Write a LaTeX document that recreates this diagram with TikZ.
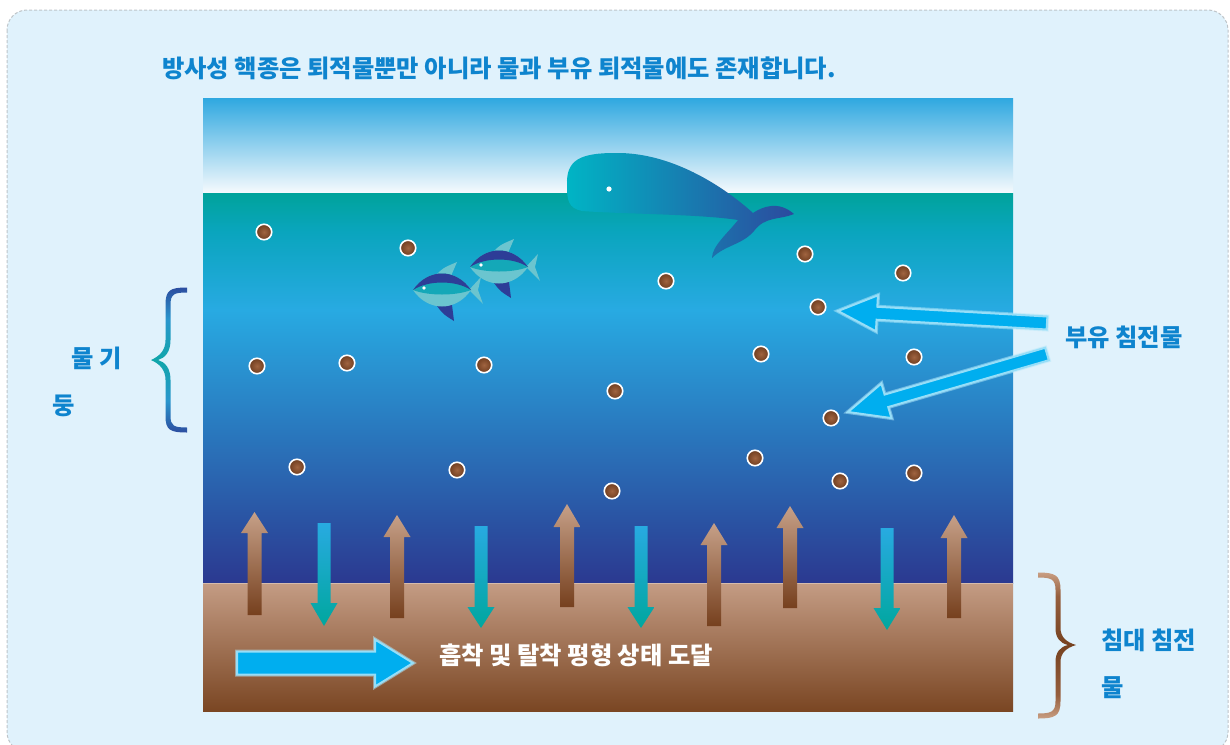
\documentclass[tikz,border=0pt]{standalone}
\usepackage{fontspec}
\newfontfamily\krfont{Noto Sans CJK KR}
\usetikzlibrary{calc}

% palette
\definecolor{panelfill}{RGB}{224,242,252}
\definecolor{paneledge}{RGB}{190,196,200}
\definecolor{lblue}{RGB}{14,132,206}
\definecolor{skytop}{RGB}{47,168,224}
\definecolor{skybot}{RGB}{246,250,253}
\definecolor{wdeep}{RGB}{43,57,144}
\definecolor{wmid}{RGB}{40,170,226}
\definecolor{wtealb}{RGB}{10,165,190}
\definecolor{wteal}{RGB}{0,163,155}
\definecolor{sedtop}{RGB}{196,156,132}
\definecolor{sedbot}{RGB}{122,70,35}
\definecolor{sedline}{RGB}{214,188,172}
\definecolor{uptop}{RGB}{198,160,136}
\definecolor{upbot}{RGB}{118,64,30}
\definecolor{dntop}{RGB}{40,170,225}
\definecolor{dnbot}{RGB}{0,167,158}
\definecolor{flowc}{RGB}{0,174,239}
\definecolor{flowedge}{RGB}{150,222,248}
\definecolor{partin}{RGB}{160,100,64}
\definecolor{partout}{RGB}{112,62,32}
\definecolor{whaleL}{RGB}{0,181,197}
\definecolor{whaleR}{RGB}{44,74,158}
\definecolor{findark}{RGB}{45,61,151}
\definecolor{fishmid}{RGB}{20,168,184}
\definecolor{finlight}{RGB}{107,197,207}
\definecolor{lbend}{RGB}{44,78,160}
\definecolor{lbmid}{RGB}{42,150,205}
\definecolor{lbtip}{RGB}{16,166,170}
\definecolor{rbend}{RGB}{200,158,130}
\definecolor{rbmid}{RGB}{150,95,62}
\definecolor{rbtip}{RGB}{118,66,32}

\pgfdeclareverticalshading{waterfill}{100bp}{color(0bp)=(wdeep); color(25bp)=(wdeep); color(60bp)=(wmid); color(70bp)=(wtealb); color(75bp)=(wteal); color(100bp)=(wteal)}
\pgfdeclareverticalshading{lbraceshade}{100bp}{color(0bp)=(lbend); color(25bp)=(lbend); color(36bp)=(lbmid); color(50bp)=(lbtip); color(64bp)=(lbmid); color(75bp)=(lbend); color(100bp)=(lbend)}
\pgfdeclareverticalshading{rbraceshade}{100bp}{color(0bp)=(rbend); color(25bp)=(rbend); color(33bp)=(rbmid); color(50bp)=(rbtip); color(67bp)=(rbmid); color(75bp)=(rbend); color(100bp)=(rbend)}

\tikzset{
  panel/.style={fill=panelfill, draw=paneledge, line width=1pt, dash pattern=on 3pt off 2pt, rounded corners=20pt},
  lbl/.style={font=\krfont\bfseries\fontsize{24.3}{28}\selectfont, text=lblue, inner sep=0pt},
  whitelbl/.style={lbl, text=white},
  uparrow/.style={top color=uptop, bottom color=upbot},
  downarrow/.style={top color=dntop, bottom color=dnbot},
  flow/.style={fill=flowc, draw=flowedge, line width=2pt, line join=miter,
    preaction={draw=flowedge!70, line width=4pt, opacity=0.5}},
  particle/.style={circle, inner sep=0pt, minimum size=15.5pt, draw=white, line width=1.6pt,
    inner color=partin, outer color=partout},
}

% upward block arrow: centre x, tip y, head-base y, foot y
\newcommand\upblock[4]{%
  \shade[uparrow] (#1-7,#4) -- (#1-7,#3) -- (#1-13.5,#3) -- (#1,#2) -- (#1+13.5,#3) -- (#1+7,#3) -- (#1+7,#4) -- cycle;}
% downward block arrow: centre x, top y, head-base y, tip y
\newcommand\downblock[4]{%
  \shade[downarrow] (#1-6.5,#2) -- (#1+6.5,#2) -- (#1+6.5,#3) -- (#1+13.5,#3) -- (#1,#4) -- (#1-13.5,#3) -- (#1-6.5,#3) -- cycle;}
% straight block arrow: tail x, tail y, tip x, tip y, half shaft, half head, head length
\newcommand\flowarrow[7]{%
  \pgfmathsetmacro\flowang{atan2(-(#4-#2),#3-#1)}%
  \pgfmathsetmacro\flowlen{veclen(#3-#1,#4-#2)}%
  \begin{scope}[shift={(#1,#2)}, rotate=\flowang]
    \path[flow] (0,-#5) -- (\flowlen-#7,-#5) -- (\flowlen-#7,-#6) -- (\flowlen,0)
      -- (\flowlen-#7,#6) -- (\flowlen-#7,#5) -- (0,#5) -- cycle;
  \end{scope}}
% a small fish, nose at the given point
\newcommand\fishat[2]{%
  \begin{scope}[shift={(#1,#2)}]
    \fill[finlight] (23,-15) .. controls (30,-22) .. (44,-28) -- (38,-14) -- cycle;
    \fill[findark] (24,16) .. controls (30,24) .. (41,31) -- (39,15) -- cycle;
    \fill[finlight] (56,0) -- (68,-13) -- (65,0) -- (70,14) -- cycle;
    \fill[finlight] (0,0) .. controls (15,-22) and (43,-22) .. (58,0) .. controls (43,22) and (15,22) .. (0,0) -- cycle;
    \fill[fishmid] (0,0) .. controls (15,-22) and (43,-22) .. (58,0) .. controls (43,6) and (15,6) .. (0,0) -- cycle;
    \fill[findark] (0,0) .. controls (15,-22) and (43,-22) .. (58,0) .. controls (43,-10) and (15,-10) .. (0,0) -- cycle;
    \fill[white] (11,-2) circle (1.8);
  \end{scope}}

\begin{document}
\begin{tikzpicture}[x=1pt, y=-1pt]
\useasboundingbox (0,0) rectangle (1230,744);
\clip (0,0) rectangle (1230,744);

% background panel
\path[panel] (7,10) rectangle (1228,752);

% sky, water column and bed sediment
\shade[top color=skytop, bottom color=skybot] (203,98) rectangle (1013,193);
\shade[shading=waterfill] (203,193) rectangle (1013,583);
\shade[top color=sedtop, bottom color=sedbot] (203,583) rectangle (1013,711);
\draw[sedline, line width=1.2pt] (203,583.6) -- (1013,583.6);

% whale
\shade[left color=whaleL, right color=whaleR]
  (567,185) .. controls (566,160) and (580,153) .. (615,153)
  .. controls (670,152) and (722,185) .. (753,213)
  .. controls (762,207) and (778,200) .. (794,214)
  .. controls (780,220) and (765,216) .. (754,231)
  .. controls (742,245) and (725,245) .. (712,258)
  .. controls (712,246) and (728,233) .. (738,220)
  .. controls (700,214) and (620,214) .. (582,211)
  .. controls (568,208) and (567,200) .. (567,185) -- cycle;
\fill[white] (609,189) circle (2.6);

% fish
\fishat{470}{267}
\fishat{413}{290}

% suspended particles
\foreach \px/\py [count=\i] in {264/232, 408/248, 666/281, 805/254, 903/273, 818/307,
    257/366, 347/363, 484/365, 761/354, 914/357, 615/391, 831/418,
    297/467, 457/470, 612/491, 755/458, 840/481, 914/473}
  \node[particle] (p\i) at (\px,\py) {};

% exchange arrows across the water--sediment interface
\upblock{254.5}{512}{533}{615}
\downblock{324}{523}{603}{626}
\upblock{397}{515}{537}{618}
\downblock{481}{526}{607}{628}
\upblock{567}{504}{527}{607}
\downblock{641}{526}{607}{628}
\upblock{714}{523}{545}{626}
\upblock{790}{506}{528}{608}
\downblock{887}{528}{608}{630}
\upblock{954}{515}{538}{618}

% pointer arrows and equilibrium arrow
\flowarrow{1047}{323}{838}{311}{6.5}{18}{39}
\flowarrow{1047}{354}{848}{412}{6.5}{18}{40}
\flowarrow{237}{663}{413}{663}{11.5}{23.5}{38}

% braces
\shade[shading=lbraceshade]
  (187,287.5) .. controls (170,287.5) and (165.5,290) .. (165.5,305) -- (165.5,340)
  .. controls (165.5,350) and (160,356) .. (151,360)
  .. controls (160,364) and (165.5,370) .. (165.5,380) -- (165.5,416)
  .. controls (165.5,430) and (170,432.5) .. (187,432.5) -- (187,427.5)
  .. controls (174,427.5) and (170.5,426) .. (170.5,416) -- (170.5,380)
  .. controls (170.5,368) and (165,362) .. (158,360)
  .. controls (165,358) and (170.5,352) .. (170.5,340) -- (170.5,305)
  .. controls (170.5,294) and (174,292.5) .. (187,292.5) -- cycle;
\shade[shading=rbraceshade]
  (1038,572.5) .. controls (1055,572.5) and (1060.5,575) .. (1060.5,590) -- (1060.5,628)
  .. controls (1060.5,637) and (1066,642) .. (1076,645)
  .. controls (1066,648) and (1060.5,653) .. (1060.5,662) -- (1060.5,701)
  .. controls (1060.5,716) and (1055,718.5) .. (1038,718.5) -- (1038,713.5)
  .. controls (1051,713.5) and (1055.5,712) .. (1055.5,701) -- (1055.5,662)
  .. controls (1055.5,652) and (1060,647) .. (1068,645)
  .. controls (1060,643) and (1055.5,638) .. (1055.5,628) -- (1055.5,590)
  .. controls (1055.5,579) and (1051,577.5) .. (1038,577.5) -- cycle;

% labels
\node[lbl, anchor=base west] (title) at (162,77) {방사성 핵종은 퇴적물뿐만 아니라 물과 부유 퇴적물에도 존재합니다.};
\node[lbl, anchor=base west] (wc1) at (71,367) {물 기};
\node[lbl, anchor=base west] (wc2) at (52,414) {둥};
\node[lbl, anchor=base west] (susp) at (1065,346) {부유 침전물};
\node[lbl, anchor=base west] (bed1) at (1101,649) {침대 침전};
\node[lbl, anchor=base west] (bed2) at (1101,696) {물};
\node[whitelbl, anchor=base west] (eq) at (439,664) {흡착 및 탈착 평형 상태 도달};
\end{tikzpicture}
\end{document}
